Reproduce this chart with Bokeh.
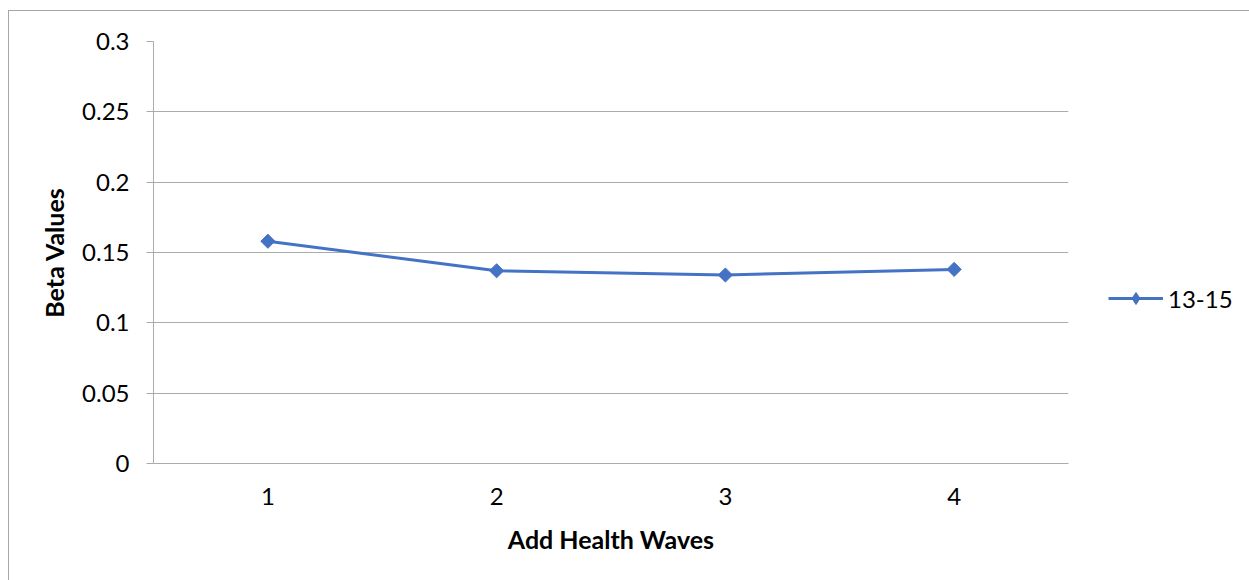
from bokeh.plotting import figure
from bokeh.models import (FactorRange, Range1d, FixedTicker, Legend, LegendItem,
                          ColumnDataSource, CDSView, IndexFilter)
from bokeh.embed import file_html
from bokeh.resources import INLINE
import math

waves = ["1", "2", "3", "4"]
beta_13_15 = [0.158, 0.137, 0.134, 0.138]
y_ticks = [0, 0.05, 0.1, 0.15, 0.2, 0.25, 0.3]
y_tick_labels = ["0", "0.05", "0.1", "0.15", "0.2", "0.25", "0.3"]
series_name = "13-15"

FONT = "Lato"
BLUE = "#4472C4"
GRID = "#ababab"

src = ColumnDataSource(data=dict(wave=waves, beta=beta_13_15))

p = figure(x_range=FactorRange(factors=waves, range_padding=0),
           y_range=Range1d(0, 0.3),
           frame_width=915, frame_height=422,
           output_backend="svg", toolbar_location=None,
           min_border_left=144, min_border_right=0, min_border_top=30, min_border_bottom=117,
           margin=(10, 0, 0, 8),
           styles={"border-left": "1px solid #a6a6a6", "border-top": "1px solid #a6a6a6"})
p.outline_line_color = None
p.background_fill_color = "white"
p.border_fill_color = "white"

p.xgrid.grid_line_color = None
p.ygrid.grid_line_color = GRID
p.ygrid.grid_line_width = 1
p.ygrid.ticker = FixedTicker(ticks=y_ticks)

p.yaxis.ticker = FixedTicker(ticks=y_ticks)
p.yaxis.major_label_overrides = {t: l for t, l in zip(y_ticks, y_tick_labels)}
p.yaxis.minor_tick_line_color = None
p.yaxis.major_tick_out = 7
p.yaxis.major_tick_in = 0
p.yaxis.major_tick_line_color = GRID
p.yaxis.axis_line_color = GRID
p.yaxis.major_label_standoff = 17
p.yaxis.axis_label = "Beta Values"
p.yaxis.axis_label_standoff = 10

p.xaxis.major_tick_line_color = None
p.xaxis.major_tick_out = 0
p.xaxis.major_tick_in = 0
p.xaxis.axis_line_color = GRID
p.xaxis.major_label_standoff = 24
p.xaxis.axis_label = "Add Health Waves"
p.xaxis.axis_label_standoff = 16

for ax in (p.xaxis, p.yaxis):
    ax.major_label_text_font = FONT
    ax.major_label_text_font_size = "24px"
    ax.major_label_text_color = "#000000"
    ax.axis_label_text_font = FONT
    ax.axis_label_text_font_size = "25px"
    ax.axis_label_text_font_style = "bold"
    ax.axis_label_text_color = "#000000"

ln = p.line("wave", "beta", source=src, line_color=BLUE, line_width=3)
p.scatter("wave", "beta", source=src, marker="square", angle=math.pi / 4, size=10,
          fill_color=BLUE, line_color=BLUE)
# diamond for the legend swatch (drawn on the first point, hidden under its marker)
mk_leg = p.scatter("wave", "beta", source=src, marker="diamond", size=11,
                   fill_color=BLUE, line_color=BLUE,
                   view=CDSView(filter=IndexFilter(indices=[0])))

legend = Legend(items=[LegendItem(label=series_name, renderers=[ln, mk_leg])],
                location=(40, 150), orientation="vertical",
                border_line_color=None, background_fill_alpha=0,
                margin=0, padding=0, glyph_width=55, glyph_height=30,
                label_height=30, label_standoff=5,
                label_text_font=FONT, label_text_font_size="24px",
                label_text_color="#000000")
p.add_layout(legend, "right")

open("out.html", "w").write(file_html(p, INLINE))
